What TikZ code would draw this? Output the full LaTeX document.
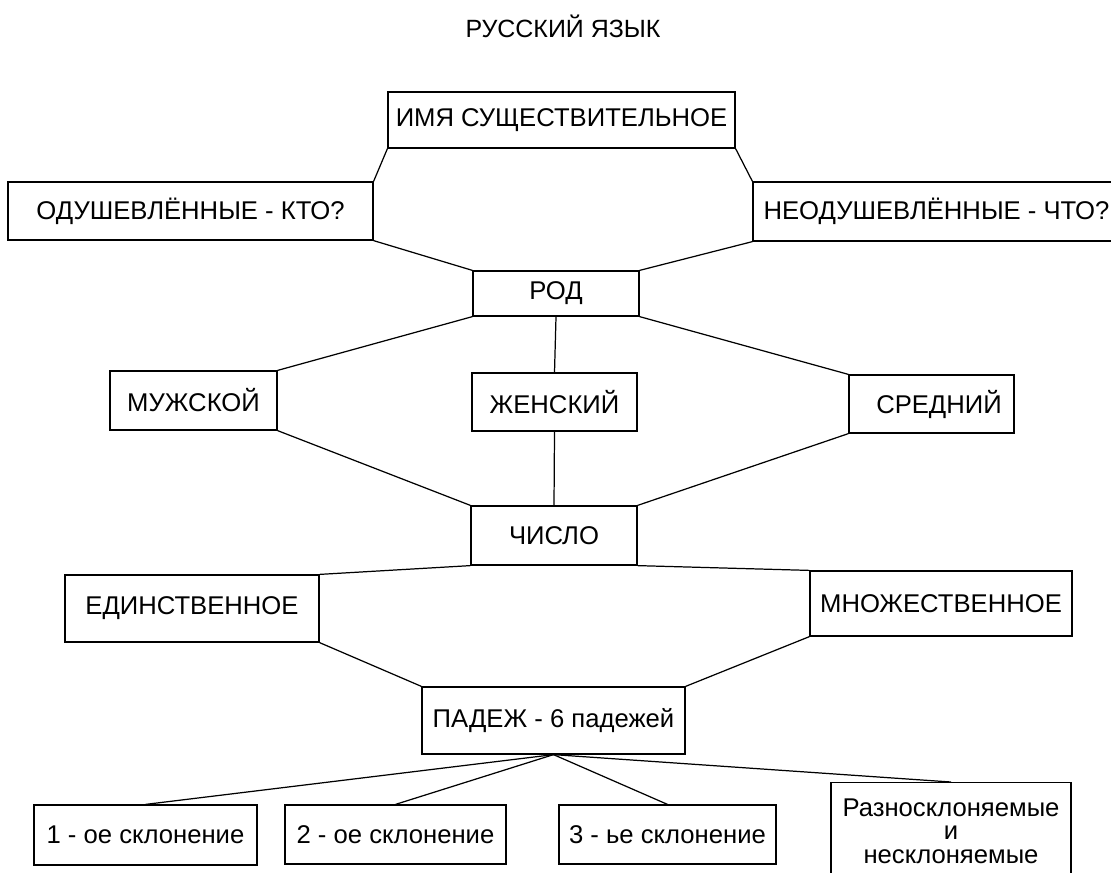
\documentclass[tikz,border=0pt]{standalone}
\usepackage{fontspec}
\setmainfont{Liberation Sans}

\begin{document}
\begin{tikzpicture}[x=0.02cm,y=-0.02cm,
    box/.style={draw,line width=0.7pt,inner sep=0pt,align=center,font=\fontsize{14.6}{13.4}\selectfont},
    link/.style={line width=0.7pt}]
      \clip (0,0) rectangle (1111,872);
      \node[font=\fontsize{14.2}{15}\selectfont] (title) at (563,26) {РУССКИЙ ЯЗЫК};
      \node[box,minimum width=6.94cm,minimum height=1.12cm] (imya) at (561.5,120) {ИМЯ СУЩЕСТВИТЕЛЬНОЕ};
      \node[box,minimum width=7.3cm,minimum height=1.16cm] (odush) at (190.5,211) {ОДУШЕВЛЁННЫЕ - КТО?};
      \node[box,minimum width=7.34cm,minimum height=1.18cm] (neodush) at (936.5,211.5) {НЕОДУШЕВЛЁННЫЕ - ЧТО?};
      \node[box,minimum width=3.32cm,minimum height=0.9cm] (rod) at (556,293.5) {РОД};
      \node[box,minimum width=3.34cm,minimum height=1.18cm] (muzh) at (193.5,400.5) {МУЖСКОЙ};
      \node[box,minimum width=3.3cm,minimum height=1.16cm] (zhen) at (554.5,402) {ЖЕНСКИЙ};
      \node[box,minimum width=3.3cm,minimum height=1.16cm] (sred) at (931.5,404) {\hspace{0.3cm}СРЕДНИЙ};
      \node[box,minimum width=3.32cm,minimum height=1.18cm] (chislo) at (554,535.5) {ЧИСЛО};
      \node[box,minimum width=5.08cm,minimum height=1.34cm] (edin) at (192,608.5) {ЕДИНСТВЕННОЕ};
      \node[box,minimum width=5.24cm,minimum height=1.3cm] (mnozh) at (941,603.5) {МНОЖЕСТВЕННОЕ};
      \node[box,minimum width=5.26cm,minimum height=1.34cm] (padezh) at (553.5,720.5) {ПАДЕЖ - 6 падежей};
      \node[box,minimum width=4.46cm,minimum height=1.2cm] (skl1) at (145.5,835) {1 - ое склонение};
      \node[box,minimum width=4.42cm,minimum height=1.18cm] (skl2) at (395.5,834.5) {2 - ое склонение};
      \node[box,minimum width=4.34cm,minimum height=1.18cm] (skl3) at (667.5,834.5) {3 - ье склонение};
      \node[box,anchor=north,minimum width=4.8cm,inner ysep=0.32cm] (razn) at (951,782) {Разносклоняемые\\и\\несклоняемые};
      % upper part
      \draw[link] (imya.south west) -- (odush.north east);
      \draw[link] (imya.south east) -- (neodush.north west);
      \draw[link] (odush.south east) -- (rod.north west);
      \draw[link] (neodush.south west) -- (rod.north east);
      % gender
      \draw[link] (rod.south west) -- (muzh.north east);
      \draw[link] (rod.south) -- (zhen.north);
      \draw[link] (rod.south east) -- (sred.north west);
      \draw[link] (muzh.south east) -- (chislo.north west);
      \draw[link] (zhen.south) -- (chislo.north);
      \draw[link] (sred.south west) -- (chislo.north east);
      % number
      \draw[link] (chislo.south west) -- (edin.north east);
      \draw[link] (chislo.south east) -- (mnozh.north west);
      \draw[link] (edin.south east) -- (padezh.north west);
      \draw[link] (mnozh.south west) -- (padezh.north east);
      % declensions
      \draw[link] (padezh.south) -- (skl1.north);
      \draw[link] (padezh.south) -- (skl2.north);
      \draw[link] (padezh.south) -- (skl3.north);
      \draw[link] (padezh.south) -- (razn.north);
    \end{tikzpicture}
\end{document}
